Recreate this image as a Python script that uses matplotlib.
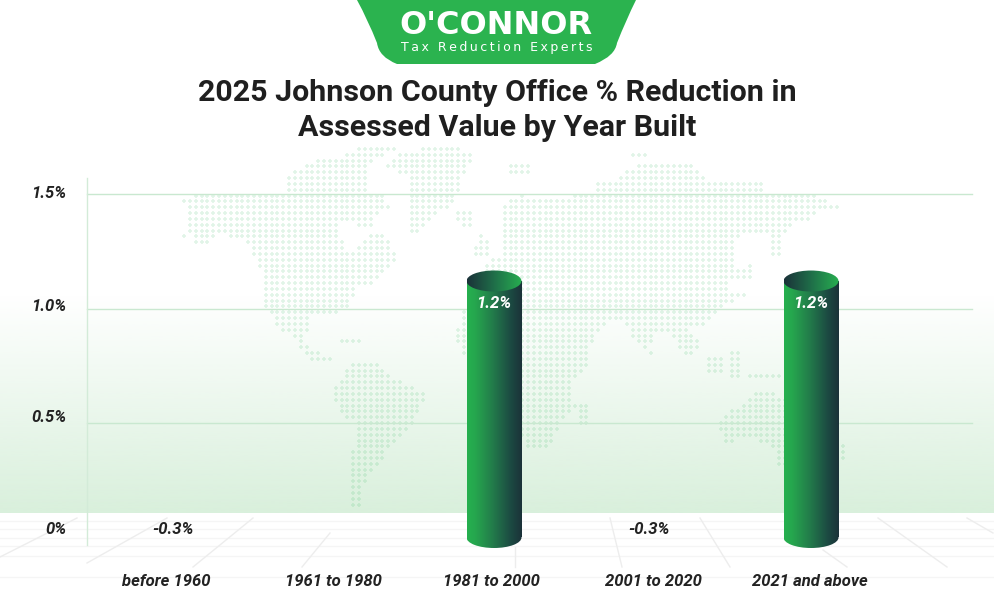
import matplotlib
matplotlib.use('Agg')
import matplotlib.pyplot as plt
import numpy as np
from matplotlib.colors import LinearSegmentedColormap, to_rgb
from matplotlib.patches import Ellipse, PathPatch, Rectangle
from matplotlib.path import Path


# chart data
categories = ['before 1960', '1961 to 1980', '1981 to 2000', '2001 to 2020', '2021 and above']
value_labels = ['-0.3%', '', '1.2%', '-0.3%', '1.2%']
# height of each cylinder as drawn, the source draws no bar for the negative ones
bar_heights = [0, 0, 1.12, 0, 1.12]
y_ticks = [1.5, 1.0, 0.5, 0.0]
y_tick_labels = ['1.5%', '1.0%', '0.5%', '0%']

title = '2025 Johnson County Office % Reduction in\nAssessed Value by Year Built'

# layout in pixels
W, H = 994, 612
cat_x = [166, 333, 491, 653, 810]
bar_x = [166, 333, 494, 653, 811]
bar_w = 55
px_per_unit = 229.0
zero_px = 537.5

# world map outlines (pixels), only used to pick which background dots to draw
map_shapes = [
    # north america
    [(183,200),(193,194),(240,194),(286,194),(286,178),(300,168),(317,160),(343,155),(362,147),(398,147),
     (385,155),(368,162),(369,190),(385,192),(387,200),(391,207),(375,218),(368,230),(360,225),(345,222),
     (336,224),(336,236),(345,245),(345,253),(356,253),(362,238),(375,232),(385,232),
     (388,240),(392,250),(398,250),(398,262),(392,265),(385,272),(378,280),(372,283),(360,287),(356,295),
     (350,303),(352,305),(340,312),(310,318),(312,322),(305,335),(307,345),(320,352),(336,357),(326,364),
     (310,358),(300,352),(292,335),(276,328),(276,320),(263,310),(263,280),(257,262),(250,245),(245,240),
     (240,237),(215,236),(212,247),(195,247),(195,235),(183,237),(186,224),(190,210)],
    # greenland, iceland
    [(430,147),(456,147),(473,155),(467,172),(460,180),(456,205),(437,212),(424,225),(414,236),(406,236),
     (406,175),(398,172),(383,172),(383,166),(398,153)],
    [(452,210),(470,210),(470,225),(460,225)],
    # caribbean
    [(338,336),(364,336),(364,347),(338,347)],
    # south america
    [(350,364),(375,362),(382,368),(392,375),(405,385),(422,391),(427,397),(420,403),(415,420),(408,427),
     (395,440),(390,448),(385,458),(380,468),(368,473),(364,485),(358,497),(364,502),(364,510),(355,510),
     (348,495),(348,455),(355,445),(356,422),(343,415),(336,405),(331,397),(336,385),(345,372)],
    # eurasia and africa
    [(505,205),(512,197),(522,195),(537,198),(548,197),(580,195),(596,190),(597,184),(620,178),(625,170),
     (637,166),(692,166),(705,175),(712,183),(766,183),(767,190),(790,190),(808,190),(812,188),(815,194),
     (825,200),(838,205),(838,212),(820,212),(813,218),(797,222),(795,230),(775,232),(745,233),(740,238),
     (733,246),(733,265),(745,268),(748,255),(755,276),(745,279),(727,281),(732,293),(748,293),(742,299),
     (722,305),(716,316),(708,322),(690,330),(702,345),(695,355),(678,352),(672,335),(655,330),(650,345),
     (652,358),(645,350),(635,340),(627,325),(605,320),(605,328),(598,335),(590,345),(590,368),(580,372),
     (572,385),(572,395),(577,405),(570,415),(560,425),(552,440),(540,452),(525,452),(520,430),(522,400),
     (510,370),(467,362),(458,345),(458,325),(468,300),(485,270),(488,258),(505,258),(500,220)],
    # uk, scandinavia and other small islands
    [(470,250),(483,233),(491,246),(491,256),(470,256)],
    [(505,164),(530,164),(530,174),(505,174)],
    [(633,149),(646,149),(646,157),(633,157)],
    [(580,402),(590,402),(590,426),(580,426)],
    [(770,235),(783,235),(783,254),(770,254)],
    [(707,357),(726,357),(726,374),(707,374)],
    [(730,352),(742,352),(742,380),(730,380)],
    [(748,372),(784,372),(784,381),(748,381)],
    [(702,383),(718,383),(718,388),(702,388)],
    # australia
    [(753,391),(775,391),(783,398),(835,420),(838,440),(853,449),(846,452),(842,460),(790,466),(775,468),
     (775,452),(762,442),(755,437),(738,437),(735,442),(725,445),(718,420),(730,410),(742,405),(752,398)],
]

# floor lines (pixels)
floor_rows = [521, 529, 538, 546, 556, 577]
floor_rays = [
    ((0,557),(77,518)), ((87,563),(167,518)), ((193,567),(253,518)), ((302,567),(330,533)),
    ((515,547),(515,567)), ((610,518),(622,567)), ((700,518),(730,567)), ((823,550),(847,567)),
    ((878,518),(947,567)), ((967,518),(993,533)),
]


def px_to_val(y_px):
    return (zero_px - y_px) / px_per_unit


def draw_background(ax):

    #green band that fades out upwards
    top_px, bottom_px = 295, 513
    band = np.ones((256, 1, 4))
    band[:, :, :3] = to_rgb('#d9f0dc')
    band[:, 0, 3] = np.linspace(0, 1, 256)
    ax.imshow(band, extent=(0, W, bottom_px, top_px), aspect='auto', zorder=1, origin='upper')

    #floor
    for y in floor_rows:
        ax.plot([0, W], [y, y], color='#f5f5f5', lw=1, zorder=1)
    for p0, p1 in floor_rays:
        ax.plot([p0[0], p1[0]], [p0[1], p1[1]], color='#ededed', lw=1, zorder=1)

    #dotted world map
    xs = np.arange(172.5, 860, 5.83)
    ys = np.arange(149, 512, 5.83)
    gx, gy = np.meshgrid(xs, ys)
    pts = np.column_stack([gx.ravel(), gy.ravel()])
    keep = np.zeros(len(pts), dtype=bool)
    for shape in map_shapes:
        keep |= Path(shape).contains_points(pts)
    ax.scatter(pts[keep, 0], pts[keep, 1], marker='+', s=10, color='#2eb85c', alpha=0.14,
               linewidths=1.2, zorder=2)

    #logo
    logo = [
        (357, 0), (636, 0), (626, 20), (617, 43), (615, 56), (595, 64),
        (397, 64), (379, 57), (377, 43), (368, 20), (357, 0),
    ]
    codes = [Path.MOVETO, Path.LINETO, Path.CURVE3, Path.CURVE3, Path.CURVE3, Path.CURVE3,
             Path.LINETO, Path.CURVE3, Path.CURVE3, Path.CURVE3, Path.CURVE3]
    ax.add_patch(PathPatch(Path(logo, codes), facecolor='#2bb34f', edgecolor='none', zorder=3))
    ax.text(496, 25, "O'CONNOR", color='white', fontsize=23, fontweight='bold',
            family='DejaVu Sans', ha='center', va='center', zorder=4)
    # letterspaced in the source
    ax.text(497, 47, '\u2009'.join('Tax Reduction Experts'), color='white', fontsize=9,
            family='DejaVu Sans', ha='center', va='center', zorder=4)


def draw_cylinder(ax, x, height):

    body_cmap = LinearSegmentedColormap.from_list('body', [(0, '#25b04f'), (0.15, '#26a64e'), (0.5, '#22774a'),
                                                           (0.8, '#1c4a42'), (1, '#1b3239')])
    top_cmap = LinearSegmentedColormap.from_list('top', ['#1b3239', '#1f6f49', '#27ae50'])
    grad = np.linspace(0, 1, 128).reshape(1, -1)
    left, right = x - bar_w / 2, x + bar_w / 2
    e_h = 21 / px_per_unit

    #body = rectangle + lower half of an ellipse
    low = -e_h / 2
    for clip in (Rectangle((left, 0), bar_w, height, transform=ax.transData),
                 Ellipse((x, 0), bar_w, e_h, transform=ax.transData)):
        im = ax.imshow(grad, cmap=body_cmap, extent=(left, right, low, height), aspect='auto', zorder=5)
        im.set_clip_path(clip)

    cap = Ellipse((x, height), bar_w, e_h, transform=ax.transData)
    im = ax.imshow(grad, cmap=top_cmap, extent=(left, right, height - e_h, height + e_h), aspect='auto', zorder=6)
    im.set_clip_path(cap)


def main():

    plt.rcParams['font.family'] = ['Roboto', 'DejaVu Sans']

    fig = plt.figure(figsize=(W / 100, H / 100), dpi=100, facecolor='white')

    bg = fig.add_axes([0, 0, 1, 1])
    bg.set_axis_off()
    draw_background(bg)
    bg.set_xlim(0, W)
    bg.set_ylim(H, 0)

    ax = fig.add_axes([0, 0, 1, 1])
    ax.patch.set_alpha(0)
    ax.set_axis_off()

    #grid and y axis
    for tick in y_ticks[:-1]:
        ax.plot([87, 972], [tick, tick], color='#c9e8d0', lw=1, zorder=3)
    ax.plot([87, 87], [px_to_val(178), px_to_val(545)], color='#d3ebd8', lw=1, zorder=3)

    #tick labels sit a little above the gridlines in the source
    tick_shift = [0, 2, 5, 8]
    for tick, lab, shift in zip(y_ticks, y_tick_labels, tick_shift):
        ax.text(66, tick + shift / px_per_unit, lab, ha='right', va='center', fontsize=12,
                fontweight='bold', fontstyle='italic', color='#222222', zorder=8)

    for x, h in zip(bar_x, bar_heights):
        if h > 0:
            draw_cylinder(ax, x, h)

    for x, h, lab in zip(bar_x, bar_heights, value_labels):
        if not lab:
            continue
        if h > 0:
            ax.text(x, px_to_val(303), lab, ha='center', va='center', fontsize=12, fontweight='bold',
                    fontstyle='italic', color='white', zorder=8)
        else:
            ax.text(x + 7 if x < 300 else x - 4, px_to_val(530), lab, ha='center', va='center', fontsize=12,
                    fontweight='bold', fontstyle='italic', color='#222222', zorder=8)

    for x, cat in zip(cat_x, categories):
        ax.text(x, px_to_val(581), cat, ha='center', va='center', fontsize=12, fontweight='bold',
                fontstyle='italic', color='#222222', zorder=8)

    ax.text(497, px_to_val(110.5), title, ha='center', va='center', fontsize=21.9, fontweight='bold',
            color='#1f1f1f', linespacing=1.34, zorder=8)

    ax.set_xlim(0, W)
    ax.set_ylim(px_to_val(H), px_to_val(0))

    fig.savefig('out.png', dpi=100)


if __name__ == "__main__":
    main()
